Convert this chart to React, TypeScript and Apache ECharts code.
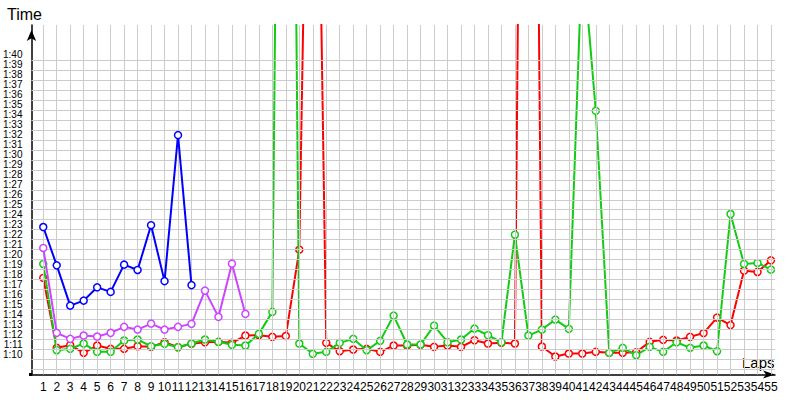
import React, { useEffect, useRef } from "react";
import * as echarts from "echarts";

const laps: number[] = Array.from({ length: 55 }, (_, i) => i + 1);

// lap times in seconds
const redTimes = [
  78.17, 71.17, 71.43, 70.67, 71.4, 71.07, 71.07, 71.33, 71.27, 71.73,
  71.23, 71.57, 71.73, 71.77, 71.67, 72.4, 72.43, 72.27, 72.35, 81.0,
  160, 71.67, 70.83, 71.0, 71.07, 70.77, 71.4, 71.4, 71.47, 71.27,
  71.4, 71.27, 71.93, 71.6, 71.67, 71.6, 219, 71.3, 70.3, 70.6,
  70.6, 70.77, 70.67, 70.67, 70.73, 71.77, 71.97, 71.9, 72.27, 72.65,
  74.2, 73.45, 78.9, 78.77, 79.93,
];
const greenTimes = [
  79.57, 70.93, 71.07, 71.6, 70.77, 70.77, 71.9, 72.0, 71.33, 71.57,
  71.23, 71.6, 72.0, 71.77, 71.47, 71.4, 72.57, 74.77, 217.5, 71.6,
  70.57, 70.77, 71.67, 72.07, 70.93, 71.87, 74.4, 71.5, 71.5, 73.4,
  71.73, 72.0, 73.1, 72.43, 71.73, 82.5, 72.4, 73.0, 74.0, 73.07,
  111, 94.9, 70.67, 71.17, 70.43, 71.27, 70.77, 71.73, 71.17, 71.4,
  70.83, 84.57, 79.57, 79.67, 79.0,
];
const blueTimes = [83.27, 79.43, 75.4, 75.9, 77.23, 76.77, 79.5, 78.97, 83.45, 77.85, 92.47, 77.45];
const purpleTimes = [
  81.17, 72.67, 72.07, 72.4, 72.3, 72.67, 73.27, 73.0, 73.6, 73.0, 73.27, 73.57, 76.9, 74.27, 79.6, 74.57,
];

// horizontal grid seconds (1:09 .. 1:40)
const gridSeconds: number[] = Array.from({ length: 32 }, (_, i) => 69 + i);

const fmtTime = (v: number) => {
  const m = Math.floor(v / 60);
  const s = Math.round(v - m * 60);
  return m + ":" + (s < 10 ? "0" + s : s);
};

const pairs = (vals: number[]) => vals.map((v, i) => [laps[i], v]);

const FONT = "Liberation Sans";

export default function App() {
  const ref = useRef<HTMLDivElement>(null);
  useEffect(() => {
    if (!ref.current) return;
    const chart = echarts.init(ref.current, null, { renderer: "svg" });
    const mkSeries = (name: string, color: string, vals: number[], z: number) => ({
      name,
      type: "line",
      data: pairs(vals),
      z,
      symbol: "circle",
      symbolSize: 7,
      showSymbol: true,
      clip: true,
      lineStyle: { color, width: 2 },
      itemStyle: { color: "#ffffff", borderColor: color, borderWidth: 1.5 },
    });
    chart.setOption({
      animation: false,
      backgroundColor: "#ffffff",
      grid: { left: 31, right: 25, top: 25, bottom: 25.5, containLabel: false },
      xAxis: {
        type: "value",
        min: 0.125,
        max: 55.3,
        interval: 0.125,
        axisLine: {
          show: true,
          lineStyle: { color: "#000", width: 1.5 },
          symbol: ["none", "arrow"],
          symbolSize: [6, 12],
        },
        axisTick: { show: false },
        splitLine: { show: false },
        axisLabel: {
          show: true,
          margin: 6,
          fontFamily: FONT,
          fontSize: 12,
          color: "#000",
          showMinLabel: false,
          showMaxLabel: false,
          formatter: (v: number) => (Number.isInteger(v) && v >= 1 && v <= 55 ? String(v) : ""),
        },
      },
      yAxis: {
        type: "value",
        min: 68.5,
        max: 103.5,
        interval: 0.5,
        axisLine: {
          show: true,
          lineStyle: { color: "#000", width: 1.5 },
          symbol: ["none", "arrow"],
          symbolSize: [7, 11],
          symbolOffset: [0, -5],
        },
        axisTick: { show: false },
        splitLine: { show: false },
        axisLabel: {
          show: true,
          margin: 9,
          fontFamily: FONT,
          fontSize: 10,
          lineHeight: 10,
          color: "#000",
          verticalAlign: "bottom",
          showMinLabel: false,
          showMaxLabel: false,
          formatter: (v: number) => (Number.isInteger(v) && v >= 70 && v <= 100 ? fmtTime(v) : ""),
        },
      },
      graphic: [
        { type: "text", left: 7, top: 6, style: { text: "Time", font: "16px " + FONT, fill: "#000" } },
        { type: "text", left: 742, top: 355, style: { text: "Laps", font: "15px " + FONT, fill: "#000" } },
        { type: "rect", left: 29, top: 373, shape: { width: 3, height: 3 }, style: { fill: "#000" } },
      ],
      series: [
        {
          name: "grid",
          type: "line",
          data: [],
          z: 1,
          silent: true,
          markLine: {
            silent: true,
            symbol: ["none", "none"],
            label: { show: false },
            lineStyle: { color: "#cccccc", width: 1, type: "solid" },
            data: [
              ...laps.map((l) => ({ xAxis: l })),
              ...gridSeconds.map((s) => ({ yAxis: s })),
            ],
          },
        },
        mkSeries("red", "#ff0000", redTimes, 3),
        mkSeries("green", "#11cc11", greenTimes, 4),
        mkSeries("purple", "#cc44ff", purpleTimes, 5),
        mkSeries("blue", "#0000ff", blueTimes, 6),
      ],
    });
    return () => chart.dispose();
  }, []);
  return (
    <div
      ref={ref}
      style={{ position: "fixed", left: 0, top: 0, width: 800, height: 400 }}
    />
  );
}
